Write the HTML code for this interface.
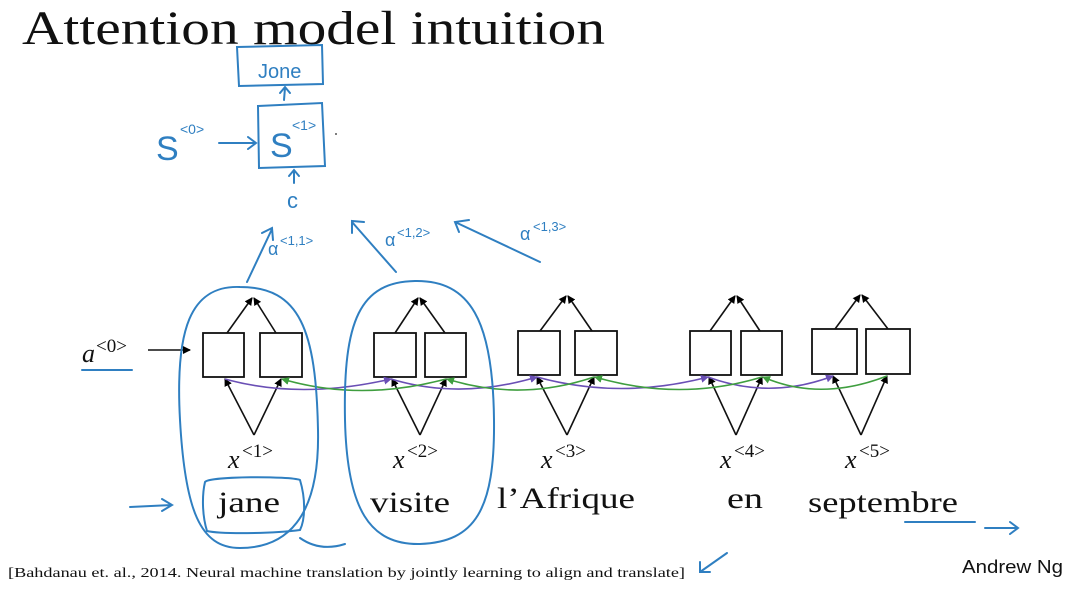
<!DOCTYPE html>
<html><head><meta charset="utf-8"><style>
html,body{margin:0;padding:0;background:#fff;}
svg{display:block}
</style></head><body>
<svg width="1088" height="591" viewBox="0 0 1088 591" xmlns="http://www.w3.org/2000/svg">
<defs>
<marker id="ab" markerWidth="8" markerHeight="8" refX="7" refY="4" orient="auto" markerUnits="userSpaceOnUse"><path d="M0,0 L8,4 L0,8 z" fill="#000"/></marker>
<marker id="ap" markerWidth="8" markerHeight="8" refX="7" refY="4" orient="auto" markerUnits="userSpaceOnUse"><path d="M0,0 L8,4 L0,8 z" fill="#6a4fb5"/></marker>
<marker id="ag" markerWidth="8" markerHeight="8" refX="7" refY="4" orient="auto" markerUnits="userSpaceOnUse"><path d="M0,0 L8,4 L0,8 z" fill="#3f9e3f"/></marker>
</defs>
<text x="22" y="44" font-family="Liberation Serif, serif" font-size="48" fill="#111" textLength="583" lengthAdjust="spacingAndGlyphs">Attention model intuition</text>

<g fill="none" stroke="#111" stroke-width="1.8">
<rect x="203" y="333" width="41" height="44" fill="#fff"/>
<rect x="260" y="333" width="42" height="44" fill="#fff"/>
<rect x="374" y="333" width="42" height="44" fill="#fff"/>
<rect x="425" y="333" width="41" height="44" fill="#fff"/>
<rect x="518" y="331" width="42" height="44" fill="#fff"/>
<rect x="575" y="331" width="42" height="44" fill="#fff"/>
<rect x="690" y="331" width="41" height="44" fill="#fff"/>
<rect x="741" y="331" width="41" height="44" fill="#fff"/>
<rect x="812" y="329" width="45" height="45" fill="#fff"/>
<rect x="866" y="329" width="44" height="45" fill="#fff"/>
</g>
<g stroke="#111" stroke-width="1.6" fill="none" marker-end="url(#ab)">
<path d="M227,333 L252,298"/><path d="M276,333 L254,298"/>
<path d="M395,333 L418,298"/><path d="M445,333 L420,298"/>
<path d="M540,331 L566,296"/><path d="M592,331 L568,296"/>
<path d="M710,331 L735,296"/><path d="M760,331 L737,296"/>
<path d="M835,329 L860,295"/><path d="M888,329 L862,295"/>
<path d="M254,435 L225,379"/><path d="M254,435 L281,379"/>
<path d="M420,435 L392,379"/><path d="M420,435 L446,379"/>
<path d="M567,435 L537,377"/><path d="M567,435 L594,377"/>
<path d="M736,435 L709,377"/><path d="M736,435 L762,377"/>
<path d="M861,435 L833,376"/><path d="M861,435 L887,376"/>
<path d="M148,350 L190,350"/>
</g>
<g fill="none" stroke-width="1.6">
<path d="M225,379 Q300,400 391,379" stroke="#6a4fb5" marker-end="url(#ap)"/>
<path d="M391,379 Q460,400 537,377" stroke="#6a4fb5" marker-end="url(#ap)"/>
<path d="M537,377 Q620,400 708,377" stroke="#6a4fb5" marker-end="url(#ap)"/>
<path d="M708,377 Q770,400 833,376" stroke="#6a4fb5" marker-end="url(#ap)"/>
<path d="M446,379 Q360,402 282,379" stroke="#3f9e3f" marker-end="url(#ag)"/>
<path d="M594,377 Q520,402 447,379" stroke="#3f9e3f" marker-end="url(#ag)"/>
<path d="M762,377 Q680,402 595,377" stroke="#3f9e3f" marker-end="url(#ag)"/>
<path d="M887,376 Q820,402 763,377" stroke="#3f9e3f" marker-end="url(#ag)"/>
</g>
<g font-family="Liberation Serif, serif" fill="#111">
<text x="82" y="362" font-size="26" font-style="italic">a</text><text x="96" y="352" font-size="19">&lt;0&gt;</text>
<text x="228" y="468" font-size="26" font-style="italic">x</text><text x="242" y="457" font-size="19">&lt;1&gt;</text>
<text x="393" y="468" font-size="26" font-style="italic">x</text><text x="407" y="457" font-size="19">&lt;2&gt;</text>
<text x="541" y="468" font-size="26" font-style="italic">x</text><text x="555" y="457" font-size="19">&lt;3&gt;</text>
<text x="720" y="468" font-size="26" font-style="italic">x</text><text x="734" y="457" font-size="19">&lt;4&gt;</text>
<text x="845" y="468" font-size="26" font-style="italic">x</text><text x="859" y="457" font-size="19">&lt;5&gt;</text>
<text x="218" y="512" font-size="30" textLength="62" lengthAdjust="spacingAndGlyphs">jane</text>
<text x="370" y="512" font-size="30" textLength="80" lengthAdjust="spacingAndGlyphs">visite</text>
<text x="497" y="508" font-size="30" textLength="138" lengthAdjust="spacingAndGlyphs">l’Afrique</text>
<text x="727" y="508" font-size="30" textLength="36" lengthAdjust="spacingAndGlyphs">en</text>
<text x="808" y="512" font-size="30" textLength="150" lengthAdjust="spacingAndGlyphs">septembre</text>
<text x="8" y="577" font-size="14" textLength="677" lengthAdjust="spacingAndGlyphs">[Bahdanau et. al., 2014. Neural machine translation by jointly learning to align and translate]</text>
</g>
<text x="962" y="573" font-family="Liberation Sans, sans-serif" font-size="18" fill="#111" textLength="101" lengthAdjust="spacingAndGlyphs">Andrew Ng</text>

<g fill="none" stroke="#2f7fc1" stroke-width="2" stroke-linecap="round">
<path d="M237,47 L322,45 L323,84 L239,86 Z"/>
<path d="M258,106 L322,103 L325,166 L259,168 Z"/>
<path d="M284,100 L285,88 M280,93 L285,87 L290,93"/>
<path d="M219,143 L256,143 M248,137 L256,143 L248,149"/>
<path d="M294,183 L294,171 M289,176 L294,170 L299,176"/>
<path d="M247,282 L272,229 M262,233 L272,228 L273,240"/>
<path d="M396,272 L352,222 M352,233 L352,221 L364,222"/>
<path d="M540,262 L455,222 M459,232 L455,222 L469,220"/>
<path d="M240,287 C190,285 175,330 180,420 C185,510 200,548 240,548 C285,548 320,520 318,430 C316,330 300,287 240,287 Z"/>
<path d="M415,281 C360,282 343,320 345,420 C347,510 370,545 420,544 C475,542 495,510 494,420 C493,320 470,280 415,281 Z"/>
<path d="M205,482 C210,476 290,476 300,480 C306,500 305,520 300,530 C270,534 220,534 207,531 C202,515 202,495 205,482 Z"/>
<path d="M82,370 L132,370"/>
<path d="M130,507 L172,505 M162,499 L172,505 L162,511"/>
<path d="M905,522 L975,522"/>
<path d="M985,528 L1018,528 M1010,522 L1018,528 L1010,534"/>
<path d="M727,553 L700,572 M700,562 L700,572 L710,572"/>
<path d="M300,538 Q320,552 345,544"/>
</g>
<g font-family="Liberation Sans, sans-serif" fill="#2f7fc1">
<text x="258" y="78" font-size="20">Jone</text>
<text x="270" y="157" font-size="34">S</text><text x="292" y="130" font-size="14">&lt;1&gt;</text>
<text x="156" y="160" font-size="34">S</text><text x="180" y="134" font-size="14">&lt;0&gt;</text>
<text x="287" y="208" font-size="22">c</text>
<text x="268" y="255" font-size="18">α</text><text x="280" y="245" font-size="13">&lt;1,1&gt;</text>
<text x="385" y="246" font-size="18">α</text><text x="397" y="237" font-size="13">&lt;1,2&gt;</text>
<text x="520" y="240" font-size="18">α</text><text x="533" y="231" font-size="13">&lt;1,3&gt;</text>
</g>
<circle cx="336" cy="134" r="1" fill="#555"/>
</svg>
</body></html>
